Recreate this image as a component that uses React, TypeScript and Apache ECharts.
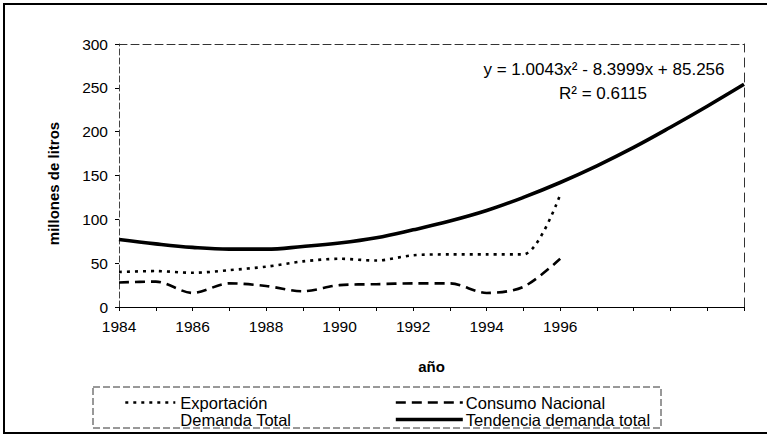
import React, { useEffect, useRef } from "react";
import * as echarts from "echarts";

const years = ["1984","1985","1986","1987","1988","1989","1990","1991","1992","1993","1994","1995","1996","1997","1998","1999","2000","2001"];
const exportacion = [40, 41, 39, 42, 46, 52, 55, 53, 59, 60, 60, 60, 128];
const consumoNacional = [28, 29, 16, 27, 24, 18, 25, 26, 27, 27, 16, 23, 55];
const demandaTotal = [68, 70, 55, 69, 70, 70, 80, 79, 86, 87, 76, 83, 183];
const tendencia = [77, 72, 68, 66, 66, 69, 73, 79, 88, 98, 110, 125, 142, 161, 182, 205, 229, 254];
const yTicks = { min: 0, max: 300, interval: 50 };
const lastLabelledYear = 1996;
const equationText = "y = 1.0043x² - 8.3999x + 85.256";
const r2Text = "R² = 0.6115";

const FONT = "'Liberation Sans', Arial, sans-serif";

export default function App() {
  const ref = useRef<HTMLDivElement>(null);
  useEffect(() => {
    if (!ref.current) return;
    const chart = echarts.init(ref.current, undefined, { renderer: "svg" });
    const textBase = { fontFamily: FONT, color: "#000" };
    chart.setOption({
      animation: false,
      backgroundColor: "#fff",
      textStyle: { fontFamily: FONT, color: "#000" },
      grid: { left: 119, right: 23, top: 44, bottom: 128, containLabel: false },
      xAxis: [
        {
          type: "category",
          data: years,
          boundaryGap: false,
          name: "año",
          nameLocation: "middle",
          nameGap: 52,
          nameTextStyle: { ...textBase, fontSize: 15, fontWeight: "bold" },
          axisLine: { onZero: false, lineStyle: { color: "#000", width: 1.2 } },
          axisTick: { show: true, interval: 0, length: 4, inside: false, lineStyle: { color: "#000" } },
          axisLabel: {
            ...textBase,
            fontSize: 15.5,
            margin: 11,
            interval: 1,
            formatter: (v: string) => (Number(v) > lastLabelledYear ? "" : v),
          },
          splitLine: { show: false },
        },
        {
          type: "category",
          data: years,
          boundaryGap: false,
          position: "top",
          axisLine: { show: true, onZero: false, lineStyle: { color: "#333", width: 1, type: [8, 4] } },
          axisTick: { show: false },
          axisLabel: { show: false },
          splitLine: { show: false },
        },
      ],
      yAxis: [
        {
          type: "value",
          min: yTicks.min,
          max: yTicks.max,
          interval: yTicks.interval,
          name: "millones de litros",
          nameLocation: "middle",
          nameGap: 58,
          nameRotate: 90,
          nameTextStyle: { ...textBase, fontSize: 15, fontWeight: "bold", padding: [0, 16, 0, 0] },
          axisLine: { show: true, onZero: false, lineStyle: { color: "#444", width: 1, type: [6, 3] } },
          axisTick: { show: true, length: 4, lineStyle: { color: "#000" } },
          axisLabel: { ...textBase, fontSize: 15.5, margin: 11 },
          splitLine: { show: false },
        },
        {
          type: "value",
          min: yTicks.min,
          max: yTicks.max,
          interval: yTicks.interval,
          position: "right",
          axisLine: { show: true, onZero: false, lineStyle: { color: "#333", width: 1, type: [9, 6] } },
          axisTick: { show: false },
          axisLabel: { show: false },
          splitLine: { show: false },
        },
      ],
      legend: [
        {
          left: 119,
          top: 389,
          orient: "vertical",
          itemWidth: 50,
          itemHeight: 16,
          itemGap: 0,
          selectedMode: false,
          itemStyle: { opacity: 0, color: "transparent", borderWidth: 0 },
          lineStyle: { width: "inherit" },
          textStyle: { ...textBase, fontSize: 16.5, lineHeight: 16, padding: [0, 0, 0, 0] },
          data: ["Exportación", "Demanda Total"],
        },
        {
          left: 389,
          top: 389,
          orient: "vertical",
          itemWidth: 67,
          itemHeight: 16,
          itemGap: 0,
          selectedMode: false,
          itemStyle: { opacity: 0, color: "transparent", borderWidth: 0 },
          lineStyle: { width: "inherit" },
          textStyle: { ...textBase, fontSize: 16.5, lineHeight: 16, padding: [0, 0, 0, -2] },
          data: ["Consumo Nacional", "Tendencia demanda total"],
        },
      ],
      graphic: [
        {
          type: "rect",
          shape: { x: 4, y: 4, width: 800, height: 429 },
          style: { fill: "none", stroke: "#000", lineWidth: 2 },
          silent: true,
        },
        {
          type: "rect",
          shape: { x: 93, y: 387, width: 568, height: 41 },
          style: { fill: "none", stroke: "#333", lineWidth: 1, lineDash: [7, 3] },
          silent: true,
        },
        {
          type: "text",
          x: 604,
          y: 69,
          style: { text: equationText, font: `17px ${FONT}`, fill: "#000", textAlign: "center", textVerticalAlign: "middle" },
        },
        {
          type: "text",
          x: 603,
          y: 93,
          style: { text: r2Text, font: `17px ${FONT}`, fill: "#000", textAlign: "center", textVerticalAlign: "middle" },
        },
      ],
      series: [
        {
          name: "Exportación",
          type: "line",
          data: exportacion,
          smooth: 0.3,
          symbol: "none",
          lineStyle: { color: "#000", width: 2.6, type: [3, 5] },
          itemStyle: { color: "#000" },
        },
        {
          name: "Consumo Nacional",
          type: "line",
          data: consumoNacional,
          smooth: 0.3,
          symbol: "none",
          lineStyle: { color: "#000", width: 2.6, type: [10, 6] },
          itemStyle: { color: "#000" },
        },
        {
          name: "Demanda Total",
          type: "line",
          data: demandaTotal,
          symbol: "none",
          lineStyle: { color: "#000", width: 0, opacity: 0 },
          itemStyle: { color: "#000", opacity: 0 },
        },
        {
          name: "Tendencia demanda total",
          type: "line",
          data: tendencia,
          smooth: 0.4,
          symbol: "none",
          lineStyle: { color: "#000", width: 3.6 },
          itemStyle: { color: "#000" },
        },
      ],
    });
    return () => chart.dispose();
  }, []);
  return (
    <div
      ref={ref}
      style={{ position: "fixed", left: 0, top: 0, width: 767, height: 435, background: "#fff" }}
    />
  );
}
